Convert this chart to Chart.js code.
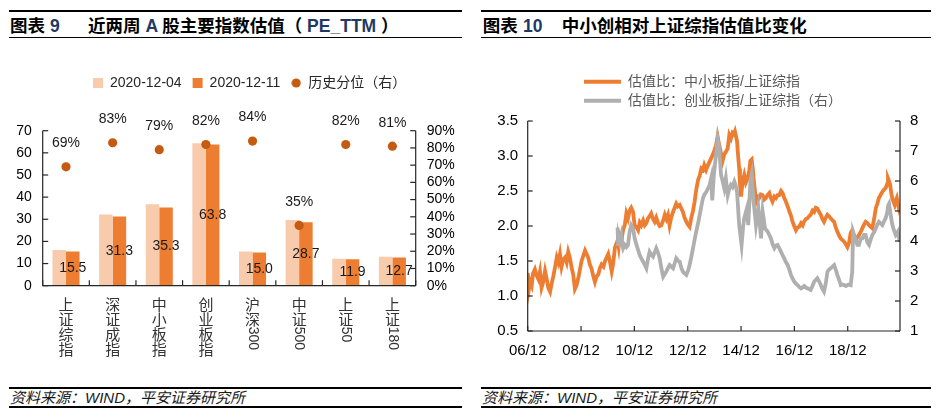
<!DOCTYPE html>
<html><head><meta charset="utf-8">
<script src="https://cdn.jsdelivr.net/npm/chart.js@4.4.0/dist/chart.umd.min.js"></script>
<style>
html,body{margin:0;padding:0;background:#fff;}
body{width:937px;height:419px;position:relative;overflow:hidden;font-family:'Liberation Sans','Noto Sans CJK SC',sans-serif;}
.rule{position:absolute;background:#000;}
.title{position:absolute;font-weight:bold;font-size:17.5px;line-height:20px;color:#000;white-space:pre;}
.num{color:#1f3864;}
.src{position:absolute;font-style:italic;font-size:15px;line-height:18px;color:#1a1a1a;white-space:pre;}
canvas{position:absolute;}
</style></head><body>
<div class="rule" style="left:9px;top:10px;width:453px;height:2px"></div>
<div class="title" style="left:10px;top:15.5px">图表</div>
<div class="title num" style="left:50px;top:15.5px">9</div>
<div class="title" style="left:88px;top:15.5px">近两周 <span class="num">A</span> 股主要指数估值（ <span class="num">PE_TTM</span> ）</div>
<div class="rule" style="left:9px;top:37px;width:453px;height:1px"></div>
<div class="rule" style="left:9px;top:387px;width:453px;height:2px"></div>
<div class="src" style="left:10px;top:389px">资料来源：WIND，平安证券研究所</div>
<div class="rule" style="left:9px;top:406px;width:453px;height:1.5px"></div>

<div class="rule" style="left:481px;top:10px;width:450px;height:2px"></div>
<div class="title" style="left:482.7px;top:15.5px">图表</div>
<div class="title num" style="left:523px;top:15.5px">10</div>
<div class="title" style="left:561.7px;top:15.5px">中小创相对上证综指估值比变化</div>
<div class="rule" style="left:481px;top:37px;width:450px;height:1px"></div>
<div class="rule" style="left:481px;top:387px;width:450px;height:2px"></div>
<div class="src" style="left:482px;top:389px">资料来源：WIND，平安证券研究所</div>
<div class="rule" style="left:481px;top:406px;width:450px;height:1.5px"></div>

<canvas id="c9" width="470" height="345" style="left:0;top:40px;width:470px;height:345px"></canvas>
<canvas id="c10" width="467" height="345" style="left:470px;top:40px;width:467px;height:345px"></canvas>

<script>
// ---------- Figure 9 data ----------
const categories = ['上证综指','深证成指','中小板指','创业板指','沪深300','中证500','上证50','上证180'];
const pe20201204 = [16.1, 32.2, 36.8, 64.3, 15.4, 29.7, 12.2, 13.1];
const pe20201211 = [15.5, 31.3, 35.3, 63.8, 15.0, 28.7, 11.9, 12.7];
const histPercentile = [69, 83, 79, 82, 84, 35, 82, 81];
const legend9 = ['2020-12-04', '2020-12-11', '历史分位（右）'];

// ---------- Figure 10 data (decimal year, ratio) ----------
const smeDates = [
 2006.92,2006.96,2007.02,2007.07,2007.12,2007.19,2007.25,2007.32,2007.38,2007.44,2007.50,2007.57,2007.63,2007.69,2007.76,2007.82,2007.88,2007.95,
 2008.01,2008.07,2008.13,2008.19,2008.25,2008.32,2008.38,2008.44,2008.50,2008.57,2008.63,2008.69,2008.75,2008.82,2008.88,2008.94,
 2009.01,2009.07,2009.13,2009.19,2009.25,2009.32,2009.38,2009.44,2009.50,2009.57,2009.63,2009.69,2009.76,2009.82,2009.88,2009.94,
 2010.01,2010.07,2010.12,2010.19,2010.25,2010.29,2010.33,2010.37,2010.43,2010.50,2010.56,2010.62,2010.68,2010.74,2010.80,2010.87,2010.93,
 2011.00,2011.06,2011.12,2011.18,2011.25,2011.31,2011.37,2011.43,2011.49,2011.55,2011.62,2011.68,2011.74,2011.81,2011.87,2011.93,
 2012.00,2012.06,2012.12,2012.18,2012.24,2012.30,2012.37,2012.43,2012.49,2012.55,2012.62,2012.68,2012.74,2012.80,2012.87,2012.93,2012.99,
 2013.05,2013.12,2013.18,2013.24,2013.31,2013.37,2013.43,2013.49,2013.54,2013.61,2013.68,2013.74,2013.80,2013.86,2013.92,2013.98,
 2014.04,2014.10,2014.16,2014.23,2014.29,2014.35,2014.42,2014.48,2014.54,2014.60,2014.65,2014.69,2014.73,2014.77,2014.81,2014.85,2014.88,2014.92,2014.98,
 2015.04,2015.10,2015.17,2015.23,2015.27,2015.32,2015.36,2015.39,2015.44,2015.48,2015.54,2015.60,2015.66,2015.73,2015.79,2015.85,2015.91,2015.98,
 2016.04,2016.10,2016.17,2016.23,2016.29,2016.35,2016.42,2016.48,2016.54,2016.60,2016.67,2016.73,2016.79,2016.85,2016.91,2016.98,
 2017.04,2017.10,2017.17,2017.23,2017.28,2017.35,2017.41,2017.47,2017.53,2017.60,2017.66,2017.72,2017.78,2017.85,2017.91,2017.97,
 2018.03,2018.10,2018.16,2018.22,2018.28,2018.35,2018.41,2018.47,2018.53,2018.60,2018.66,2018.72,2018.78,2018.85,2018.91,2018.97,
 2019.03,2019.09,2019.16,2019.22,2019.28,2019.34,2019.41,2019.47,2019.53,2019.59,2019.66,2019.72,2019.78,2019.84,2019.91,2019.97,
 2020.03,2020.09,2020.16,2020.22,2020.28,2020.34,2020.40,2020.43,2020.47,2020.51,2020.55,2020.59,2020.64,2020.68,2020.72,2020.76,2020.80,2020.84,2020.88
];
const smeRatio = [
 1.33,1.08,1.20,1.15,1.32,1.38,1.30,1.24,1.35,1.12,1.20,1.36,1.25,1.12,1.06,1.18,1.28,1.42,
 1.55,1.48,1.60,1.42,1.52,1.55,1.48,1.63,1.55,1.40,1.30,1.10,1.15,1.26,1.38,1.50,
 1.58,1.65,1.60,1.55,1.45,1.38,1.28,1.20,1.28,1.31,1.40,1.45,1.42,1.50,1.55,1.60,
 1.48,1.35,1.45,1.69,1.75,1.79,1.70,1.85,1.78,1.95,2.01,2.18,2.11,2.22,2.26,2.20,2.01,
 1.98,1.94,2.05,2.01,2.08,2.01,2.04,2.11,2.14,2.18,2.10,2.06,2.12,2.04,2.00,2.01,
 2.08,2.16,2.10,2.16,2.01,2.12,2.20,2.26,2.32,2.28,2.30,2.25,2.20,2.12,2.06,2.02,1.99,
 2.11,2.22,2.35,2.52,2.66,2.72,2.82,2.80,2.87,2.80,2.87,2.92,2.97,3.02,3.08,3.15,
 3.28,3.16,3.05,2.93,3.02,3.06,3.11,3.30,3.25,3.33,3.31,3.35,3.28,3.21,3.00,2.82,2.60,2.42,2.64,
 2.73,2.62,2.68,2.80,2.93,2.95,2.82,2.68,2.50,2.35,2.42,2.40,2.45,2.44,2.38,2.40,2.44,2.47,
 2.40,2.35,2.42,2.40,2.44,2.44,2.50,2.47,2.40,2.35,2.28,2.21,2.15,2.06,2.00,1.94,
 1.98,1.99,2.04,2.01,2.06,2.10,2.11,2.14,2.16,2.22,2.20,2.26,2.25,2.20,2.16,2.10,
 2.06,2.12,2.16,2.14,2.11,2.08,2.06,1.98,1.92,1.86,1.82,1.80,1.78,1.74,1.70,1.76,
 1.90,1.94,1.85,1.80,1.84,1.87,1.92,1.97,2.02,2.06,2.04,2.01,1.99,1.97,2.10,2.25,
 2.32,2.40,2.45,2.49,2.52,2.54,2.60,2.68,2.64,2.59,2.48,2.40,2.34,2.30,2.36,2.40,2.32,2.25,2.30
];
const gemDates = [
 2010.29,2010.31,2010.34,2010.37,2010.43,2010.47,2010.50,2010.56,2010.62,2010.68,2010.74,2010.80,2010.87,2010.93,
 2011.00,2011.06,2011.12,2011.18,2011.25,2011.31,2011.37,2011.43,2011.49,2011.55,2011.62,2011.68,2011.74,2011.81,2011.87,2011.93,
 2012.00,2012.06,2012.12,2012.18,2012.24,2012.30,2012.37,2012.43,2012.49,2012.55,2012.62,2012.68,2012.74,2012.80,2012.87,2012.93,2012.99,
 2013.05,2013.12,2013.18,2013.24,2013.31,2013.37,2013.43,2013.49,2013.55,2013.62,2013.68,2013.74,2013.80,2013.84,2013.90,2013.96,
 2014.04,2014.10,2014.17,2014.23,2014.29,2014.35,2014.42,2014.48,2014.54,2014.60,2014.67,2014.72,2014.77,2014.85,2014.94,
 2015.00,2015.04,2015.14,2015.19,2015.27,2015.32,2015.39,2015.44,2015.48,2015.57,2015.62,2015.67,2015.73,2015.82,2015.92,2015.98,
 2016.04,2016.10,2016.17,2016.23,2016.29,2016.36,2016.42,2016.48,2016.54,2016.60,2016.67,2016.73,2016.79,2016.85,2016.92,2016.98,
 2017.04,2017.10,2017.17,2017.23,2017.29,2017.35,2017.41,2017.47,2017.53,2017.60,2017.66,2017.72,2017.78,2017.85,2017.91,2017.97,
 2018.03,2018.10,2018.16,2018.22,2018.28,2018.35,2018.41,2018.47,2018.53,2018.60,2018.66,2018.72,2018.78,2018.85,2018.91,2018.97,
 2019.03,2019.09,2019.12,2019.16,2019.22,2019.28,2019.34,2019.41,2019.47,2019.53,2019.59,2019.66,2019.72,2019.78,2019.84,2019.91,2019.97,
 2020.03,2020.09,2020.16,2020.22,2020.28,2020.34,2020.40,2020.44,2020.47,2020.53,2020.58,2020.63,2020.68,2020.72,2020.76,2020.80,2020.84,2020.88
];
const gemRatio = [
 4.45,3.90,4.10,3.98,4.20,3.90,3.76,3.87,3.80,3.87,4.30,4.53,4.42,4.10,
 3.87,3.70,3.53,3.42,3.31,3.20,3.09,3.40,3.64,3.55,3.48,3.62,3.76,3.60,3.42,3.10,
 2.81,2.90,2.98,3.10,3.20,3.15,3.09,3.25,3.42,3.35,3.31,3.10,2.98,2.92,2.87,3.00,3.20,
 3.45,3.76,4.05,4.31,4.60,4.87,5.15,5.42,5.55,5.64,5.75,5.87,6.10,5.35,6.20,6.70,
 7.40,7.09,6.20,6.00,5.76,6.09,5.53,5.75,5.87,5.80,5.98,5.85,5.64,4.53,3.87,
 4.50,4.76,5.09,4.53,5.98,6.20,5.31,4.90,4.53,5.09,4.60,4.09,4.98,4.42,4.31,4.20,
 4.09,3.90,3.76,3.85,3.87,3.75,3.64,3.52,3.42,3.30,3.20,3.05,2.87,2.75,2.64,2.58,
 2.53,2.47,2.42,2.45,2.50,2.45,2.42,2.40,2.37,2.50,2.64,2.70,2.76,2.65,2.53,2.40,
 2.31,2.60,2.98,3.05,3.09,3.15,3.20,3.05,2.87,2.70,2.53,2.55,2.53,2.50,2.53,2.55,
 2.53,2.98,4.31,4.20,4.05,3.87,3.87,4.09,4.09,4.20,4.20,3.95,3.87,4.05,4.20,4.30,4.42,
 4.55,4.64,4.58,4.53,4.65,4.76,4.95,5.20,5.25,4.87,4.60,4.42,4.30,4.20,4.25,4.31,4.10,3.98
];
const xTickValues = [2006.92, 2008.92, 2010.92, 2012.92, 2014.92, 2016.92, 2018.92];
const xTickLabels = ['06/12', '08/12', '10/12', '12/12', '14/12', '16/12', '18/12'];
const legend10 = ['估值比：中小板指/上证综指', '估值比：创业板指/上证综指（右）'];

// ---------- common ----------
const FONT = "'Liberation Sans','Noto Sans CJK SC',sans-serif";
const CJK = "'Noto Sans CJK SC',sans-serif";
const AXIS = '#262626';
Chart.defaults.font.family = FONT;

function line(ctx, x1, y1, x2, y2) { ctx.beginPath(); ctx.moveTo(x1, y1); ctx.lineTo(x2, y2); ctx.stroke(); }
function toPoints(xs, ys) { const n = Math.min(xs.length, ys.length); const out = []; for (let i = 0; i < n; i++) out.push({x: xs[i], y: ys[i]}); return out; }

// legend marker for the percentile dots
const dotImg = document.createElement('canvas');
dotImg.width = 10; dotImg.height = 10;
(function(){ const c = dotImg.getContext('2d'); c.fillStyle = '#C55A11'; c.beginPath(); c.arc(5, 5, 4.6, 0, Math.PI * 2); c.fill(); })();

// ---------- Figure 9 ----------
const fig9Plugin = {
  id: 'fig9deco',
  afterLayout(chart) { chart.legend.left = 82; chart.legend.top = 25; },
  afterDatasetsDraw(chart) {
    const ctx = chart.ctx;
    ctx.save();
    ctx.font = '14px ' + FONT; ctx.fillStyle = '#1a1a1a';
    ctx.textAlign = 'center'; ctx.textBaseline = 'middle';
    chart.getDatasetMeta(1).data.forEach((el, i) => {
      ctx.fillText(pe20201211[i].toFixed(1), el.x, (el.y + el.base) / 2);
    });
    chart.getDatasetMeta(2).data.forEach((el, i) => {
      ctx.fillText(histPercentile[i] + '%', el.x, el.y - 23.4);
    });
    ctx.restore();
  },
  afterDraw(chart) {
    const ctx = chart.ctx, a = chart.chartArea, sx = chart.scales.x, sy = chart.scales.y, sy1 = chart.scales.y1;
    ctx.save();
    ctx.strokeStyle = AXIS; ctx.lineWidth = 1.2;
    line(ctx, a.left, a.top, a.left, a.bottom);
    line(ctx, a.right, a.top, a.right, a.bottom);
    line(ctx, a.left, a.bottom, a.right, a.bottom);
    sy.ticks.forEach(t => { const p = sy.getPixelForValue(t.value); line(ctx, a.left, p, a.left + 5.5, p); });
    sy1.ticks.forEach(t => { const p = sy1.getPixelForValue(t.value); line(ctx, a.right - 5.5, p, a.right, p); });
    const n = categories.length;
    const half = (sx.getPixelForValue(1) - sx.getPixelForValue(0)) / 2;
    for (let k = 0; k <= n; k++) {
      const p = k < n ? sx.getPixelForValue(k) - half : sx.getPixelForValue(n - 1) + half;
      line(ctx, p, a.bottom - 5.5, p, a.bottom);
    }
    // vertical category labels: CJK upright, digits rotated
    ctx.fillStyle = '#333';
    categories.forEach((name, i) => {
      const px = sx.getPixelForValue(i);
      const parts = name.match(/[\u4e00-\u9fff]|[0-9A-Za-z]+/g);
      let y = a.bottom + 18.5;
      parts.forEach(p => {
        if (/^[\u4e00-\u9fff]$/.test(p)) {
          ctx.font = '15px ' + CJK; ctx.textAlign = 'center'; ctx.textBaseline = 'middle';
          ctx.fillText(p, px, y);
          y += 15;
        } else {
          ctx.save();
          ctx.translate(px, y - 7.5);
          ctx.rotate(Math.PI / 2);
          ctx.font = '14px ' + FONT; ctx.textAlign = 'left'; ctx.textBaseline = 'middle';
          ctx.fillText(p, 0, 0);
          ctx.restore();
        }
      });
    });
    ctx.restore();
  }
};

new Chart(document.getElementById('c9'), {
  type: 'bar',
  data: {
    labels: categories,
    datasets: [
      {label: legend9[0], data: pe20201204, backgroundColor: '#F8CBAD', yAxisID: 'y', order: 2, categoryPercentage: 0.58, barPercentage: 1},
      {label: legend9[1], data: pe20201211, backgroundColor: '#ED7D31', yAxisID: 'y', order: 2, categoryPercentage: 0.58, barPercentage: 1},
      {type: 'line', label: legend9[2], data: histPercentile, yAxisID: 'y1', showLine: false,
       pointRadius: 4.6, pointHoverRadius: 4.6, pointBorderWidth: 0, pointBackgroundColor: '#C55A11',
       backgroundColor: '#C55A11', borderColor: '#C55A11', order: 1}
    ]
  },
  options: {
    responsive: false, animation: false, devicePixelRatio: 1,
    layout: {padding: {top: 55.7, left: 0, right: 0, bottom: 0}},
    plugins: {
      tooltip: {enabled: false},
      legend: {
        align: 'start',
        labels: {
          usePointStyle: true, boxWidth: 10, boxHeight: 10, padding: 11, color: '#262626',
          font: {family: FONT, size: 14},
          generateLabels(chart) {
            const items = Chart.defaults.plugins.legend.labels.generateLabels(chart);
            items.forEach(it => { it.lineWidth = 0; it.pointStyle = it.datasetIndex === 2 ? dotImg : 'rect'; });
            return items;
          },
          sort: (a, b) => a.datasetIndex - b.datasetIndex
        }
      }
    },
    scales: {
      x: {type: 'category', offset: true, grid: {display: false, drawTicks: false}, border: {display: false},
          ticks: {display: false}, afterFit(s) { s.height = 99.3; }},
      y: {position: 'left', min: 0, max: 70, grid: {display: false, drawTicks: false}, border: {display: false},
          ticks: {stepSize: 10, autoSkip: false, padding: 11, color: '#000', font: {family: FONT, size: 14}},
          afterFit(s) { s.width = 42.7; }},
      y1: {position: 'right', min: 0, max: 90, grid: {display: false, drawTicks: false}, border: {display: false},
          ticks: {stepSize: 10, autoSkip: false, padding: 11, color: '#000', font: {family: FONT, size: 14}, callback: v => v + '%'},
          afterFit(s) { s.width = 54.3; }}
    }
  },
  plugins: [fig9Plugin]
});

// ---------- Figure 10 ----------
const fig10Plugin = {
  id: 'fig10deco',
  afterLayout(chart) { chart.legend.left = 109; chart.legend.top = 29.7; },
  afterDraw(chart) {
    const ctx = chart.ctx, a = chart.chartArea, sx = chart.scales.x, sy = chart.scales.y, sy1 = chart.scales.y1;
    ctx.save();
    ctx.strokeStyle = AXIS; ctx.lineWidth = 1.2;
    line(ctx, a.left, a.top, a.left, a.bottom);
    line(ctx, a.right, a.top, a.right, a.bottom);
    line(ctx, a.left, a.bottom, a.right, a.bottom);
    sy.ticks.forEach(t => { const p = sy.getPixelForValue(t.value); line(ctx, a.left, p, a.left + 5, p); });
    sy1.ticks.forEach(t => { const p = sy1.getPixelForValue(t.value); line(ctx, a.right - 5, p, a.right, p); });
    sx.ticks.forEach(t => { const p = sx.getPixelForValue(t.value); line(ctx, p, a.bottom - 5, p, a.bottom); });
    ctx.restore();
  }
};

new Chart(document.getElementById('c10'), {
  type: 'line',
  data: {
    datasets: [
      {label: legend10[0], data: toPoints(smeDates, smeRatio), yAxisID: 'y', borderColor: '#ED7D31', backgroundColor: '#ED7D31',
       borderWidth: 3.8, pointRadius: 0, tension: 0, order: 1},
      {label: legend10[1], data: toPoints(gemDates, gemRatio), yAxisID: 'y1', borderColor: '#AFAFAF', backgroundColor: '#AFAFAF',
       borderWidth: 3.8, pointRadius: 0, tension: 0, order: 0}
    ]
  },
  options: {
    responsive: false, animation: false, devicePixelRatio: 1,
    layout: {padding: {top: 33, left: 0, right: 0, bottom: 0}},
    plugins: {
      tooltip: {enabled: false},
      legend: {
        fullSize: false, align: 'start',
        labels: {
          boxWidth: 37, boxHeight: 4, padding: 5, color: '#595959', font: {family: FONT, size: 14},
          generateLabels(chart) {
            const items = Chart.defaults.plugins.legend.labels.generateLabels(chart);
            items.forEach(it => { it.lineWidth = 0; });
            return items;
          },
          sort: (a, b) => a.datasetIndex - b.datasetIndex
        }
      }
    },
    scales: {
      x: {type: 'linear', min: 2006.92, max: 2020.88,
          afterBuildTicks(s) { s.ticks = xTickValues.map(v => ({value: v})); },
          grid: {display: false, drawTicks: false}, border: {display: false},
          ticks: {autoSkip: false, maxRotation: 0, padding: 11, color: '#000', font: {family: FONT, size: 15},
                  callback: (v, i) => xTickLabels[i]},
          afterFit(s) { s.height = 54; }},
      y: {position: 'left', min: 0.5, max: 3.5, grid: {display: false, drawTicks: false}, border: {display: false},
          ticks: {stepSize: 0.5, autoSkip: false, padding: 9.5, color: '#000', font: {family: FONT, size: 15}, callback: v => Number(v).toFixed(1)},
          afterFit(s) { s.width = 57.7; }},
      y1: {position: 'right', min: 1, max: 8, grid: {display: false, drawTicks: false}, border: {display: false},
          ticks: {stepSize: 1, autoSkip: false, padding: 10, color: '#000', font: {family: FONT, size: 15}},
          afterFit(s) { s.width = 37; }}
    }
  },
  plugins: [fig10Plugin]
});
</script>
</body></html>
